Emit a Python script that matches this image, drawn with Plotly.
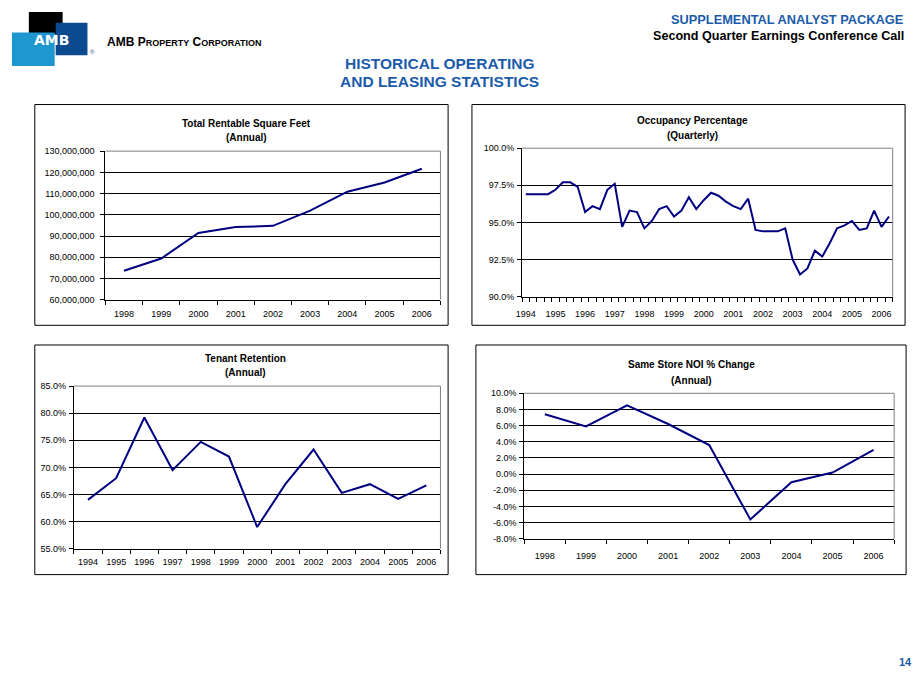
import plotly.graph_objects as go

W, H = 919, 689
FONT = "Arial, Liberation Sans, sans-serif"
NAVY = "#000080"
BLUE = "#1B5BAA"

# ---------------- data ----------------
sqft_years = ["1998", "1999", "2000", "2001", "2002", "2003", "2004", "2005", "2006"]
sqft_values = [73.6e6, 79.4e6, 91.4e6, 94.2e6, 94.8e6, 102.0e6, 110.9e6, 115.2e6, 121.7e6]
sqft_ticks = [60e6, 70e6, 80e6, 90e6, 100e6, 110e6, 120e6, 130e6]
sqft_ticktext = ["60,000,000", "70,000,000", "80,000,000", "90,000,000",
                 "100,000,000", "110,000,000", "120,000,000", "130,000,000"]

occ_year_labels = ["1994", "1995", "1996", "1997", "1998", "1999", "2000",
                   "2001", "2002", "2003", "2004", "2005", "2006"]
occ_values = [96.9, 96.9, 96.9, 96.9, 97.2, 97.7, 97.7, 97.4, 95.7, 96.1,
              95.9, 97.2, 97.6, 94.7, 95.8, 95.7, 94.6, 95.1, 95.9, 96.1,
              95.4, 95.8, 96.7, 95.9, 96.5, 97.0, 96.8, 96.4, 96.1, 95.9,
              96.6, 94.5, 94.4, 94.4, 94.4, 94.6, 92.5, 91.5, 91.9, 93.1,
              92.7, 93.6, 94.6, 94.8, 95.1, 94.5, 94.6, 95.8, 94.7, 95.4]
occ_ticks = [90.0, 92.5, 95.0, 97.5, 100.0]
occ_ticktext = ["90.0%", "92.5%", "95.0%", "97.5%", "100.0%"]

ret_years = ["1994", "1995", "1996", "1997", "1998", "1999", "2000",
             "2001", "2002", "2003", "2004", "2005", "2006"]
ret_values = [64.0, 68.0, 79.2, 69.5, 74.7, 72.0, 59.0, 66.9, 73.3, 65.3, 66.9, 64.2, 66.7]
ret_ticks = [55, 60, 65, 70, 75, 80, 85]
ret_ticktext = ["55.0%", "60.0%", "65.0%", "70.0%", "75.0%", "80.0%", "85.0%"]

noi_years = ["1998", "1999", "2000", "2001", "2002", "2003", "2004", "2005", "2006"]
noi_values = [7.4, 5.9, 8.5, 6.2, 3.6, -5.6, -1.0, 0.2, 3.0]
noi_ticks = [-8, -6, -4, -2, 0, 2, 4, 6, 8, 10]
noi_ticktext = ["-8.0%", "-6.0%", "-4.0%", "-2.0%", "0.0%", "2.0%", "4.0%", "6.0%", "8.0%", "10.0%"]


def px_x(x):
    return x / W


def px_y(y):
    return 1 - y / H


fig = go.Figure()

layout_axes = {}
shapes = []
annotations = []


def add_chart(idx, xs, ys, xrng, tickvals, ticktext, minorvals, yrng, ytickvals,
              yticktext, plot_px, box_px, title1, title2, title_xy, xgap, ygap):
    xname = "x" if idx == 1 else f"x{idx}"
    yname = "y" if idx == 1 else f"y{idx}"
    xkey = "xaxis" if idx == 1 else f"xaxis{idx}"
    ykey = "yaxis" if idx == 1 else f"yaxis{idx}"
    x0, x1, y0, y1 = plot_px
    fig.add_trace(go.Scatter(x=xs, y=ys, mode="lines", line=dict(color=NAVY, width=2),
                             xaxis=xname, yaxis=yname, showlegend=False, hoverinfo="skip"))
    tf = dict(family=FONT, size=9, color="black")
    layout_axes[xkey] = dict(
        domain=[px_x(x0), px_x(x1)], range=xrng, anchor=yname,
        tickmode="array", tickvals=tickvals, ticktext=ticktext, ticks="",
        ticklabelstandoff=xgap,
        showline=True, linecolor="black", linewidth=1, showgrid=False, zeroline=False,
        tickfont=tf, fixedrange=True,
        minor=dict(tickmode="array", tickvals=minorvals, ticks="outside", ticklen=4,
                   tickcolor="black", tickwidth=1, showgrid=False),
    )
    layout_axes[ykey] = dict(
        domain=[px_y(y1), px_y(y0)], range=yrng, anchor=xname,
        tickmode="array", tickvals=ytickvals, ticktext=yticktext, ticks="outside", ticklen=4,
        ticklabelstandoff=ygap,
        tickcolor="black", tickwidth=1, showline=True, linecolor="black", linewidth=1,
        showgrid=True, gridcolor="black", gridwidth=1, zeroline=False,
        tickfont=tf, fixedrange=True,
    )
    # gray plot-area border (top & right)
    shapes.append(dict(type="line", xref=f"{xname} domain", yref=f"{yname} domain",
                       x0=0, x1=1, y0=1, y1=1, line=dict(color="#808080", width=1)))
    shapes.append(dict(type="line", xref=f"{xname} domain", yref=f"{yname} domain",
                       x0=1, x1=1, y0=0, y1=1, line=dict(color="#808080", width=1)))
    # chart box
    bx0, by0, bx1, by1 = box_px
    shapes.append(dict(type="rect", xref="paper", yref="paper",
                       x0=px_x(bx0), x1=px_x(bx1), y0=px_y(by1), y1=px_y(by0),
                       line=dict(color="black", width=1), fillcolor="rgba(0,0,0,0)"))
    tx, ty1, ty2 = title_xy
    for t, ty in ((title1, ty1), (title2, ty2)):
        annotations.append(dict(text=f"<b>{t}</b>", x=px_x(tx), y=px_y(ty), xref="paper",
                                yref="paper", xanchor="center", yanchor="middle",
                                showarrow=False, font=dict(family=FONT, size=10, color="black")))


n1 = len(sqft_years)
add_chart(1, list(range(n1)), sqft_values, [-0.5, n1 - 0.5], list(range(n1)), sqft_years,
          [i - 0.5 for i in range(n1 + 1)], [60e6, 130e6], sqft_ticks, sqft_ticktext,
          (100, 437.3, 148.3, 299), (29, 101, 445, 325),
          "Total Rentable Square Feet", "(Annual)", (241.7, 120, 134.3), 6, 4)

n2 = len(occ_values)
add_chart(2, list(range(n2)), occ_values, [-0.5, n2 - 0.5],
          [4 * i for i in range(len(occ_year_labels))], occ_year_labels,
          [i - 0.5 for i in range(n2 + 1)], [90, 100], occ_ticks, occ_ticktext,
          (519.5, 892.5, 145.3, 296), (469, 101, 905, 325),
          "Occupancy Percentage", "(Quarterly)", (690.7, 117.3, 132.3), 8, 1)

n3 = len(ret_years)
add_chart(3, list(range(n3)), ret_values, [-0.5, n3 - 0.5], list(range(n3)), ret_years,
          [i - 0.5 for i in range(n3 + 1)], [55, 85], ret_ticks, ret_ticktext,
          (68.3, 437.3, 386.7, 551.7), (29, 345, 445, 578),
          "Tenant Retention", "(Annual)", (240.7, 358.3, 373.3), 5, 1)

n4 = len(noi_years)
add_chart(4, list(range(n4)), noi_values, [-0.5, n4 - 0.5], list(range(n4)), noi_years,
          [i - 0.5 for i in range(n4 + 1)], [-8, 10], noi_ticks, noi_ticktext,
          (521.7, 894, 394, 541.7), (473, 345, 906, 578),
          "Same Store NOI % Change", "(Annual)", (690, 364.3, 380.7), 8, 1)

# ---------------- logo ----------------
def rect_px(x0, y0, x1, y1, color):
    shapes.append(dict(type="rect", xref="paper", yref="paper", x0=px_x(x0), x1=px_x(x1),
                       y0=px_y(y1), y1=px_y(y0), fillcolor=color, line=dict(width=0),
                       layer="above"))


rect_px(23, 7, 57, 30, "#000000")
rect_px(6, 28, 49, 62, "#1E96CF")
rect_px(50, 18, 82, 51, "#0B4A8E")


def text_px(t, x, y, size, color, xanchor="center", bold=False, family=FONT):
    annotations.append(dict(text=(f"<b>{t}</b>" if bold else t), x=px_x(x), y=px_y(y),
                            xref="paper", yref="paper", xanchor=xanchor, yanchor="middle",
                            showarrow=False, font=dict(family=family, size=size, color=color)))


text_px("AMB", 46, 36, 14, "white", bold=True, family="DejaVu Sans, Arial")
text_px("®", 87, 48, 6, "#0B4A8E")
text_px("AMB P<span style='font-size:9px'>ROPERTY</span> C<span style='font-size:9px'>ORPORATION</span>",
        100, 38, 12, "black", xanchor="left", bold=True)

# ---------------- headers ----------------
text_px("SUPPLEMENTAL ANALYST PACKAGE", 906, 15, 12.8, BLUE, xanchor="right", bold=True)
text_px("Second Quarter Earnings Conference Call", 906, 31, 12.6, "black", xanchor="right", bold=True)
text_px("HISTORICAL OPERATING", 436, 59, 15.5, BLUE, bold=True)
text_px("AND LEASING STATISTICS", 436, 78, 15.5, BLUE, bold=True)
text_px("14", 914, 667, 11, BLUE, xanchor="right", bold=True)

fig.update_layout(
    width=W, height=H, margin=dict(l=0, r=0, t=0, b=0),
    paper_bgcolor="white", plot_bgcolor="white",
    font=dict(family=FONT, color="black"),
    showlegend=False, shapes=shapes, annotations=annotations,
    **layout_axes,
)

fig.write_html("out.html", config={"displayModeBar": False},
               post_script="document.body.style.margin='0px';document.body.style.overflow='hidden';")
